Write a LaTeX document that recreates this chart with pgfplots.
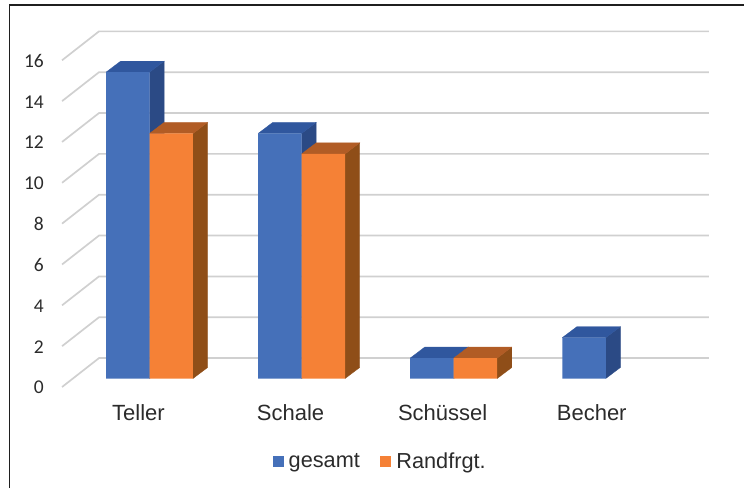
\documentclass[border=0pt]{standalone}
\usepackage{pgfplots}
\usepackage{fontspec}
\pgfplotsset{compat=1.18}
\setmainfont{Liberation Sans}
\newfontfamily\carlito{Carlito}

\definecolor{blueF}{HTML}{4570B9}
\definecolor{blueT}{HTML}{30579E}
\definecolor{blueS}{HTML}{2B4A85}
\definecolor{orangeF}{HTML}{F58136}
\definecolor{orangeT}{HTML}{B15C25}
\definecolor{orangeS}{HTML}{8F4E18}
\definecolor{gridc}{HTML}{D0D0D0}
\definecolor{txt}{HTML}{2B2B2B}

% bar width and depth offset in axis units
\def\bw{0.286}
\def\dx{0.096}
\def\dy{0.539}
% left edge, value, top colour, side colour
\newcommand\faces[4]{%
  \pgfmathsetmacro\xr{#1+\bw}%
  \pgfmathsetmacro\xbl{#1+\dx}%
  \pgfmathsetmacro\xbr{#1+\bw+\dx}%
  \pgfmathsetmacro\yb{\dy}%
  \pgfmathsetmacro\yt{#2+\dy}%
  \addplot[fill=#4, draw=#4, line width=0.3pt, forget plot] coordinates {(\xr,0) (\xbr,\yb) (\xbr,\yt) (\xr,#2) (\xr,0)};
  \addplot[fill=#3, draw=#3, line width=0.3pt, forget plot] coordinates {(#1,#2) (\xr,#2) (\xbr,\yt) (\xbl,\yt) (#1,#2)};
}

\begin{document}
\begin{tikzpicture}[x=1pt,y=1pt]
\useasboundingbox (0,0) rectangle (744,488);
\begin{axis}[
    at={(0pt,0pt)}, anchor=south west,
    scale only axis,
    width=744pt, height=488pt,
    xmin=-0.983, xmax=3.909,
    ymin=-5.362, ymax=18.536,
    axis line style={draw=none},
    major tick length=0pt,
    tick style={draw=none},
    clip=false,
    unbounded coords=jump,
    ytick={0,2,4,6,8,10,12,14,16},
    yticklabel style={anchor=east, inner sep=0pt, xshift=44pt, yshift=-9.2pt,
        text=txt, font=\carlito\fontsize{19.5}{19.5}\selectfont,
        /pgf/number format/assume math mode=true},
    xtick={0,1,2,2.98},
    xticklabels={Teller,Schale,Schüssel,Becher},
    xticklabel style={anchor=base, inner sep=0pt, xshift=-11pt, yshift=68pt,
        text=txt, font=\fontsize{22}{22}\selectfont},
    legend style={at={(379.2pt,26.3pt)}, anchor=center, draw=none, fill=none,
        inner sep=0pt, font=\fontsize{21.7}{21.7}\selectfont, text=txt,
        legend columns=2,
        nodes={inner sep=0pt},
        /tikz/every even column/.append style={column sep=20.5pt}},
    legend image code/.code={\fill[#1, draw=none] (0pt,-5.5pt) rectangle (11pt,5.5pt);},
    legend cell align=left,
]
\addlegendimage{fill=blueF}
\addlegendentry{\hspace{5pt}gesamt}
\addlegendimage{fill=orangeF}
\addlegendentry{\hspace{5pt}Randfrgt.}

% walls: front edge, back corner, right end for each level
\addplot[gridc, line width=1.7pt, forget plot] coordinates {
    (-0.575,-0.416) (-0.332,1.0) (3.678,1.0) (0,nan)
    (-0.575,1.584) (-0.332,3.0) (3.678,3.0) (0,nan)
    (-0.575,3.584) (-0.332,5.0) (3.678,5.0) (0,nan)
    (-0.575,5.584) (-0.332,7.0) (3.678,7.0) (0,nan)
    (-0.575,7.584) (-0.332,9.0) (3.678,9.0) (0,nan)
    (-0.575,9.584) (-0.332,11.0) (3.678,11.0) (0,nan)
    (-0.575,11.584) (-0.332,13.0) (3.678,13.0) (0,nan)
    (-0.575,13.584) (-0.332,15.0) (3.678,15.0) (0,nan)
    (-0.575,15.584) (-0.332,17.0) (3.678,17.0)
};

% gesamt
\faces{-0.286}{15}{blueT}{blueS}
\faces{0.714}{12}{blueT}{blueS}
\faces{1.714}{1}{blueT}{blueS}
\faces{2.714}{2}{blueT}{blueS}
\addplot[ybar, bar width=\bw, bar shift=-0.143, fill=blueF, draw=none, forget plot]
    coordinates {(0,15) (1,12) (2,1) (3,2)};

% Randfrgt.
\faces{0}{12}{orangeT}{orangeS}
\faces{1}{11}{orangeT}{orangeS}
\faces{2}{1}{orangeT}{orangeS}
\addplot[ybar, bar width=\bw, bar shift=0.143, fill=orangeF, draw=none, forget plot]
    coordinates {(0,12) (1,11) (2,1)};
\end{axis}
\draw[black!88, line width=1.5pt] (9.5,0) -- (9.5,483) -- (744,483);
\end{tikzpicture}
\end{document}
